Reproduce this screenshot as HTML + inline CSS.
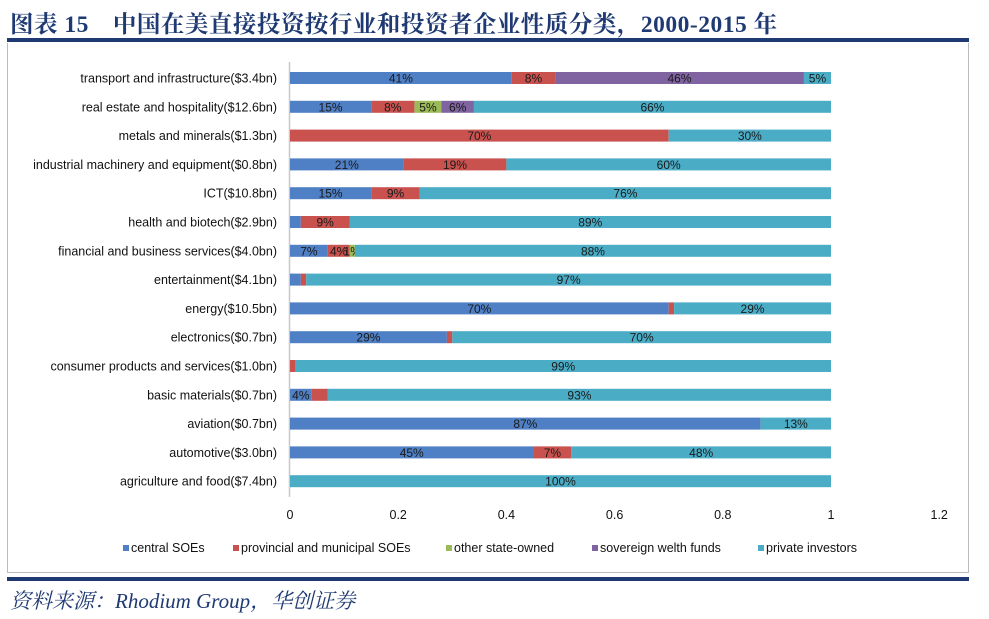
<!DOCTYPE html>
<html><head><meta charset="utf-8">
<style>
html,body{margin:0;padding:0;background:#fff;}
body{width:989px;height:619px;position:relative;overflow:hidden;font-family:"Liberation Sans","Noto Sans CJK SC",sans-serif;}
#title{position:absolute;left:10px;top:5px;font-family:"Liberation Serif","Noto Serif CJK SC",serif;font-weight:bold;font-size:23.5px;color:#1f3a73;letter-spacing:0.5px;white-space:nowrap;}
#topline{position:absolute;left:7px;top:38px;width:962px;height:4px;background:#1f3a73;}
#frame{position:absolute;left:7px;top:43px;width:962px;height:530px;border:1px solid #bbb;border-top:none;box-sizing:border-box;}
#botline{position:absolute;left:7px;top:577px;width:962px;height:4px;background:#1f3a73;}
#source{position:absolute;left:10px;top:585px;font-family:"Liberation Serif","Noto Serif CJK SC",serif;font-style:italic;font-size:21px;color:#1f3a73;white-space:nowrap;}
svg{position:absolute;left:0;top:0;}
</style></head><body>
<div id="title">图表 15　中国在美直接投资按行业和投资者企业性质分类，2000-2015 年</div>
<div id="topline"></div>
<div id="frame"></div>
<svg id="chart" width="989" height="619"></svg>
<div id="botline"></div>
<div id="source">资料来源：Rhodium Group，华创证券</div>
<script>
const categories = ["transport and infrastructure($3.4bn)","real estate and hospitality($12.6bn)","metals and minerals($1.3bn)","industrial machinery and equipment($0.8bn)","ICT($10.8bn)","health and biotech($2.9bn)","financial and business services($4.0bn)","entertainment($4.1bn)","energy($10.5bn)","electronics($0.7bn)","consumer products and services($1.0bn)","basic materials($0.7bn)","aviation($0.7bn)","automotive($3.0bn)","agriculture and food($7.4bn)"];
const seriesNames = ["central SOEs","provincial and municipal SOEs","other state-owned","sovereign welth funds","private investors"];
const central    = [0.41,0.15,0,0.21,0.15,0.02,0.07,0.02,0.70,0.29,0,0.04,0.87,0.45,0];
const provincial = [0.08,0.08,0.70,0.19,0.09,0.09,0.04,0.01,0.01,0.01,0.01,0.03,0,0.07,0];
const otherState = [0,0.05,0,0,0,0,0.01,0,0,0,0,0,0,0,0];
const sovereign  = [0.46,0.06,0,0,0,0,0,0,0,0,0,0,0,0,0];
const privateInv = [0.05,0.66,0.30,0.60,0.76,0.89,0.88,0.97,0.29,0.70,0.99,0.93,0.13,0.48,1.00];
const xTicks = [0,0.2,0.4,0.6,0.8,1,1.2];
const xTickLabels = ["0","0.2","0.4","0.6","0.8","1","1.2"];

const colors = ["#4f7fc4","#c9524f","#9bbb59","#8064a2","#4bacc6"];
const series = [central,provincial,otherState,sovereign,privateInv];
const NS = "http://www.w3.org/2000/svg";
const svg = document.getElementById('chart');
const x0 = 290, xUnit = 541;
const xs = v => x0 + v * xUnit;
const yTop = 78, yStep = 28.8;
const yc = i => yTop + i * yStep;
const barH = 12;
function mk(tag, attrs){const e=document.createElementNS(NS,tag);for(const k in attrs)e.setAttribute(k,attrs[k]);svg.appendChild(e);return e;}

const axis = mk('line',{x1:289.5,y1:62,x2:289.5,y2:497,stroke:'#c8c8c8','stroke-width':1.5});



categories.forEach((c,i)=>{
  const t = mk('text',{x:277,y:yc(i)+4.5,'text-anchor':'end','font-size':12.5,fill:'#111'});
  t.textContent = c;
  
  
  let acc = 0;
  series.forEach((s,k)=>{
    const v = s[i];
    if(v>0){
      const r = mk('rect',{x:xs(acc),y:yc(i)-barH/2,width:v*xUnit,height:barH,fill:colors[k]});
      
      
      if(v>=0.04 || k===2){
        const lt = mk('text',{x:xs(acc+v/2),y:yc(i)+4.5,'text-anchor':'middle','font-size':12,fill:'#1a1a1a'});
        lt.textContent = Math.round(v*100)+'%';
        
        
      }
    }
    acc += v;
  });
});

xTicks.forEach((v,j)=>{
  const t = mk('text',{x:xs(v),y:519,'text-anchor':'middle','font-size':12.5,fill:'#111'});
  t.textContent = xTickLabels[j];
  
  
});

const legendX = [123,233,446,592,758];
seriesNames.forEach((n,k)=>{
  const r = mk('rect',{x:legendX[k],y:545,width:6,height:6,fill:colors[k]});
  
  
  const t = mk('text',{x:legendX[k]+8,y:552,'font-size':12.5,fill:'#111'});
  t.textContent = n;
  
  
});
</script>
</body></html>
